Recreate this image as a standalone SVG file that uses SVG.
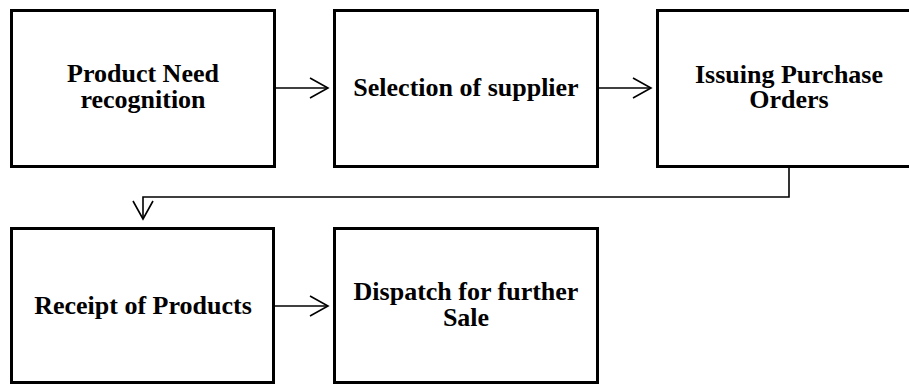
<svg xmlns="http://www.w3.org/2000/svg" width="909" height="385" viewBox="0 0 909 385">
<style>
.box{fill:#fff;stroke:#000;stroke-width:3}
.lbl{font-family:"Liberation Serif","Times New Roman",serif;font-weight:bold;font-size:26px;fill:#000;text-anchor:middle}
.conn{fill:none;stroke:#000;stroke-width:1.6}
</style>
<defs>
<marker id="arr" markerUnits="userSpaceOnUse" markerWidth="24" markerHeight="26" viewBox="-2 -12 24 24" refX="18" refY="0" orient="auto">
<path d="M0,-10 L18,0 L0,10" fill="none" stroke="#000" stroke-width="1.6"/>
</marker>
</defs>
<rect width="909" height="385" fill="#fff"/>
<g id="connectors">
<line class="conn" x1="276" y1="88" x2="328" y2="88" marker-end="url(#arr)"/>
<line class="conn" x1="599" y1="88" x2="651" y2="88" marker-end="url(#arr)"/>
<path class="conn" d="M789,168 V197 H143 V219" marker-end="url(#arr)"/>
<line class="conn" x1="275" y1="306" x2="328" y2="306" marker-end="url(#arr)"/>
</g>
<g id="n1">
<rect class="box" x="11.5" y="10.5" width="263" height="156"/>
<text class="lbl" x="143" y="82">Product Need<tspan x="143" dy="26">recognition</tspan></text>
</g>
<g id="n2">
<rect class="box" x="334.5" y="10.5" width="263" height="156"/>
<text class="lbl" x="466" y="96">Selection of supplier</text>
</g>
<g id="n3">
<rect class="box" x="657.5" y="10.5" width="263" height="156"/>
<text class="lbl" x="789" y="83">Issuing Purchase<tspan x="789" dy="25">Orders</tspan></text>
</g>
<g id="n4">
<rect class="box" x="11.5" y="228.5" width="262" height="154"/>
<text class="lbl" x="143" y="314">Receipt of Products</text>
</g>
<g id="n5">
<rect class="box" x="334.5" y="228.5" width="263" height="154"/>
<text class="lbl" x="466" y="300">Dispatch for further<tspan x="466" dy="26">Sale</tspan></text>
</g>
</svg>
